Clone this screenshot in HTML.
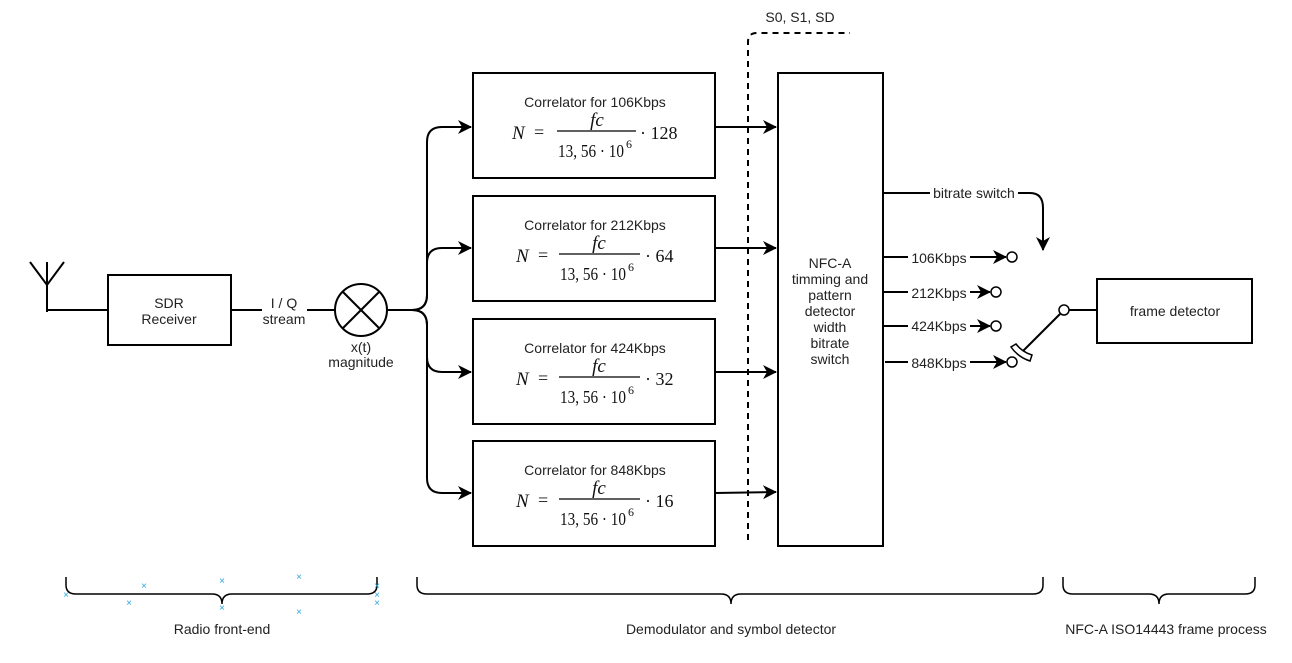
<!DOCTYPE html>
<html><head><meta charset="utf-8"><style>
html,body{margin:0;padding:0;background:#fff;}
svg{display:block;}
text{font-family:"Liberation Sans",sans-serif;font-size:14px;fill:#222;}
.m{font-family:"Liberation Serif",serif;font-size:18px;fill:#111;}
.mi{font-family:"Liberation Serif",serif;font-style:italic;font-size:19px;fill:#111;}
.sup{font-family:"Liberation Serif",serif;font-size:12px;fill:#111;}
</style></head><body>
<svg width="1292" height="663" viewBox="0 0 1292 663" xmlns="http://www.w3.org/2000/svg">
<defs>
<marker id="b" markerWidth="14" markerHeight="14" refX="13" refY="7" orient="auto" markerUnits="userSpaceOnUse">
<path d="M0,0 L14,7 L0,14 L4,7 Z" fill="#000"/></marker>
</defs>
<g stroke="#000" stroke-width="2" fill="none">
<line x1="47" y1="262" x2="47" y2="312"/>
<polyline points="30,262 47,285 64,262"/>
<line x1="47" y1="310" x2="108" y2="310"/>
<rect x="108" y="275" width="123" height="70"/>
<line x1="231" y1="310" x2="262" y2="310"/>
<line x1="307" y1="310" x2="335" y2="310"/>
<circle cx="361" cy="310" r="26"/>
<line x1="343" y1="292" x2="379" y2="328"/>
<line x1="379" y1="292" x2="343" y2="328"/>
<path d="M388,310 L412,310 Q427,310 427,295 L427,142 Q427,127 442,127 L471,127" marker-end="url(#b)"/>
<path d="M412,310 Q427,310 427,295 L427,263 Q427,248 442,248 L471,248" marker-end="url(#b)"/>
<path d="M412,310 Q427,310 427,325 L427,357 Q427,372 442,372 L471,372" marker-end="url(#b)"/>
<path d="M412,310 Q427,310 427,325 L427,478 Q427,493 442,493 L471,493" marker-end="url(#b)"/>
<rect x="473" y="73" width="242" height="105"/>
<rect x="473" y="196" width="242" height="105"/>
<rect x="473" y="319" width="242" height="105"/>
<rect x="473" y="441" width="242" height="105"/>
<line x1="715" y1="127" x2="776" y2="127" marker-end="url(#b)"/>
<line x1="715" y1="248" x2="776" y2="248" marker-end="url(#b)"/>
<line x1="715" y1="372" x2="776" y2="372" marker-end="url(#b)"/>
<line x1="715" y1="493" x2="776" y2="492" marker-end="url(#b)"/>
<path d="M748,540 L748,42 Q748,33 757,33 L850,33" stroke-dasharray="6,5"/>
<rect x="778" y="73" width="105" height="473"/>
<path d="M883,193 L1030,193 Q1043,193 1043,208 L1043,250" marker-end="url(#b)"/>
<line x1="883" y1="257" x2="1006" y2="257" marker-end="url(#b)"/>
<line x1="883" y1="292" x2="990" y2="292" marker-end="url(#b)"/>
<line x1="883" y1="326" x2="990" y2="326" marker-end="url(#b)"/>
<line x1="885" y1="362" x2="1006" y2="362" marker-end="url(#b)"/>
<line x1="1060" y1="314" x2="1022" y2="352"/>
<line x1="1069" y1="310" x2="1097" y2="310"/>
<rect x="1097" y="279" width="155" height="64"/>
</g>
<g stroke="#000" stroke-width="1.5" fill="#fff">
<circle cx="1012" cy="257" r="5"/>
<circle cx="996" cy="292" r="5"/>
<circle cx="996" cy="326" r="5"/>
<circle cx="1012" cy="362" r="5"/>
<circle cx="1064" cy="310" r="5"/>
<path d="M1011,347 Q1018,357 1030,361 L1032,355 Q1022,352 1016,344 Z"/>
</g>
<g fill="#fff">
<rect x="930" y="185" width="88" height="16"/>
<rect x="908" y="249" width="62" height="16"/>
<rect x="908" y="284" width="62" height="16"/>
<rect x="908" y="318" width="62" height="16"/>
<rect x="908" y="354" width="62" height="16"/>
</g>
<g text-anchor="middle">
<text x="169" y="308">SDR</text><text x="169" y="324">Receiver</text>
<text x="284" y="308">I / Q</text><text x="284" y="324">stream</text>
<text x="361" y="352">x(t)</text><text x="361" y="367">magnitude</text>
<text x="800" y="22">S0, S1, SD</text>
<text x="830" y="268">NFC-A</text><text x="830" y="284">timming and</text>
<text x="830" y="300">pattern</text><text x="830" y="316">detector</text>
<text x="830" y="332">width</text><text x="830" y="348">bitrate</text>
<text x="830" y="364">switch</text>
<text x="974" y="198">bitrate switch</text>
<text x="939" y="263">106Kbps</text>
<text x="939" y="298">212Kbps</text>
<text x="939" y="331">424Kbps</text>
<text x="939" y="368">848Kbps</text>
<text x="1175" y="316">frame detector</text>
<text x="222" y="634">Radio front-end</text>
<text x="731" y="634">Demodulator and symbol detector</text>
<text x="1166" y="634">NFC-A  ISO14443 frame process</text>
</g>
<g>
<text x="595" y="107" text-anchor="middle">Correlator for 106Kbps</text>
<text x="512" y="139" class="mi">N</text><text x="534" y="138" class="m">=</text>
<text x="597" y="126" class="mi" text-anchor="middle">fc</text>
<line x1="557" y1="131" x2="636" y2="131" stroke="#000" stroke-width="1.3"/>
<text x="558" y="157" class="m" textLength="66" lengthAdjust="spacingAndGlyphs">13, 56 · 10</text><text x="626" y="148" class="sup">6</text>
<text x="640" y="139" class="m">· 128</text>
</g>
<g>
<text x="595" y="230" text-anchor="middle">Correlator for 212Kbps</text>
<text x="516" y="262" class="mi">N</text><text x="538" y="261" class="m">=</text>
<text x="599" y="249" class="mi" text-anchor="middle">fc</text>
<line x1="559" y1="254" x2="640" y2="254" stroke="#000" stroke-width="1.3"/>
<text x="560" y="280" class="m" textLength="66" lengthAdjust="spacingAndGlyphs">13, 56 · 10</text><text x="628" y="271" class="sup">6</text>
<text x="645" y="262" class="m">· 64</text>
</g>
<g>
<text x="595" y="353" text-anchor="middle">Correlator for 424Kbps</text>
<text x="516" y="385" class="mi">N</text><text x="538" y="384" class="m">=</text>
<text x="599" y="372" class="mi" text-anchor="middle">fc</text>
<line x1="559" y1="377" x2="640" y2="377" stroke="#000" stroke-width="1.3"/>
<text x="560" y="403" class="m" textLength="66" lengthAdjust="spacingAndGlyphs">13, 56 · 10</text><text x="628" y="394" class="sup">6</text>
<text x="645" y="385" class="m">· 32</text>
</g>
<g>
<text x="595" y="475" text-anchor="middle">Correlator for 848Kbps</text>
<text x="516" y="507" class="mi">N</text><text x="538" y="506" class="m">=</text>
<text x="599" y="494" class="mi" text-anchor="middle">fc</text>
<line x1="559" y1="499" x2="640" y2="499" stroke="#000" stroke-width="1.3"/>
<text x="560" y="525" class="m" textLength="66" lengthAdjust="spacingAndGlyphs">13, 56 · 10</text><text x="628" y="516" class="sup">6</text>
<text x="645" y="507" class="m">· 16</text>
</g>
<g stroke="#000" stroke-width="1.5" fill="none">
<path d="M66,577 L66,585 Q66,594 76,594 L212,594 Q222,594 222,604 Q222,594 232,594 L367,594 Q377,594 377,585 L377,577"/>
<path d="M417,577 L417,585 Q417,594 427,594 L721,594 Q731,594 731,604 Q731,594 741,594 L1033,594 Q1043,594 1043,585 L1043,577"/>
<path d="M1063,577 L1063,585 Q1063,594 1073,594 L1149,594 Q1159,594 1159,604 Q1159,594 1169,594 L1245,594 Q1255,594 1255,585 L1255,577"/>
</g>
<g text-anchor="middle">
<text x="66" y="598" style="fill:#29a8e0;font-size:10px">×</text>
<text x="129" y="606" style="fill:#29a8e0;font-size:10px">×</text>
<text x="144" y="589" style="fill:#29a8e0;font-size:10px">×</text>
<text x="222" y="584" style="fill:#29a8e0;font-size:10px">×</text>
<text x="222" y="611" style="fill:#29a8e0;font-size:10px">×</text>
<text x="299" y="580" style="fill:#29a8e0;font-size:10px">×</text>
<text x="299" y="615" style="fill:#29a8e0;font-size:10px">×</text>
<text x="377" y="589" style="fill:#29a8e0;font-size:10px">×</text>
<text x="377" y="598" style="fill:#29a8e0;font-size:10px">×</text>
<text x="377" y="606" style="fill:#29a8e0;font-size:10px">×</text>
</g>
</svg>
</body></html>
